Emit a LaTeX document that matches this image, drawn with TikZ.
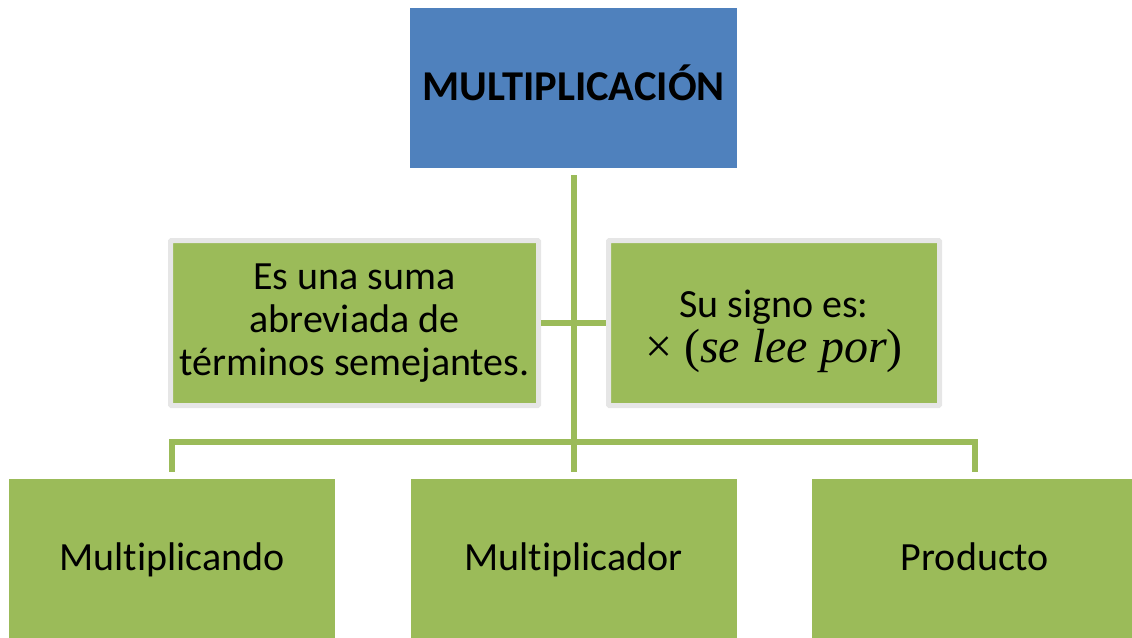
\documentclass[tikz,border=0pt]{standalone}
\usepackage{fontspec}
\setmainfont{Carlito}[Ligatures=NoCommon]
\newfontfamily\mathfont{Liberation Serif}
\usetikzlibrary{positioning}
\definecolor{boxblue}{HTML}{4F81BD}
\definecolor{boxgreen}{HTML}{9BBB59}
\definecolor{boxrim}{HTML}{E6E6E6}

\begin{document}
\begin{tikzpicture}[x=1pt,y=1pt,node distance=235pt,on grid,
        root/.style={rectangle,fill=boxblue,minimum width=327pt,minimum height=160pt,text height=27.4pt,text depth=3pt,font=\fontsize{42.5}{52}\selectfont\bfseries},
        info/.style={rectangle,fill=boxgreen,draw=boxrim,line width=5pt,rounded corners=1pt,minimum height=165pt,align=center,font=\fontsize{40}{43}\selectfont},
        leaf/.style={rectangle,fill=boxgreen,minimum width=326pt,minimum height=160pt,text height=25.8pt,text depth=3pt,font=\fontsize{40}{48}\selectfont},
        link/.style={draw=boxgreen,line width=6pt}]
        \useasboundingbox (0,0) rectangle (1132,-637);
        \node[root] (root) at (573.5,-88) {MULTIPLICACIÓN};
        \node[leaf](l_2) [below=471pt of root] {Multiplicador};
        \node[leaf](l_1) [left=401.5pt of l_2] {Multiplicando};
        \node[leaf](l_3) [right=401.5pt of l_2] {Producto};
        \node[info,minimum width=368pt](i_1) [below left=235pt and 219pt of root] {Es una suma\\abreviada de\\términos semejantes.};
        \node[info,minimum width=331pt](i_2) [below right=235pt and 200.5pt of root] {\rule{0pt}{44pt}Su signo es:\\[2pt]{\mathfont\fontsize{48}{48}\selectfont ×~(\textit{se lee por})}};
        \coordinate[above=37pt of l_2.north] (fork);
        \path[link,shorten <=7pt,shorten >=7pt]
        (root) edge (l_2)
        (l_1.north) edge[to path={|- (fork) -| (\tikztotarget)}] (l_3.north);
        \path[link]
        (i_1.east) edge (i_2.west);
\end{tikzpicture}
\end{document}
